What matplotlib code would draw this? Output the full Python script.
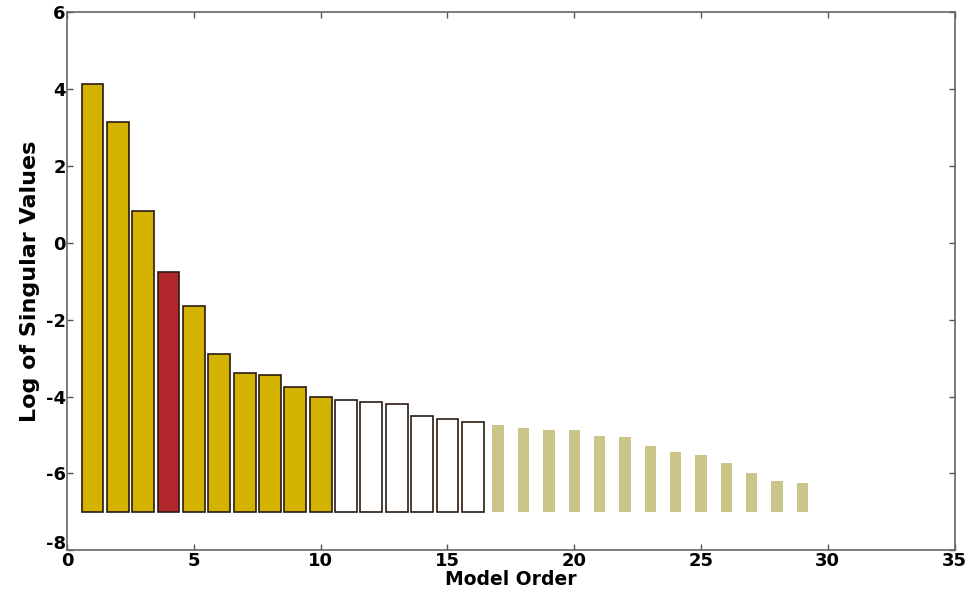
import matplotlib.pyplot as plt
import matplotlib.transforms as mtransforms
import numpy as np

plt.rcParams['axes.unicode_minus'] = False

# Log singular values per model order
order_kept = [1, 2, 3, 4, 5, 6, 7, 8, 9, 10]
sv_kept = [4.12, 3.15, 0.82, -0.75, -1.64, -2.9, -3.38, -3.45, -3.76, -4.0]

order_mid = [11, 12, 13, 14, 15, 16]
sv_mid = [-4.08, -4.13, -4.2, -4.51, -4.58, -4.65]

order_faint = [17, 18, 19, 20, 21, 22, 23, 24, 25, 26, 27, 28, 29]
sv_faint = [-4.75, -4.82, -4.88, -4.88, -5.03, -5.06, -5.29, -5.44, -5.53,
            -5.74, -6.0, -6.2, -6.26]

chosen_order = 4
base = -7

gold = '#d4b300'
red = '#b3262b'
faint = '#cbc58a'

fig = plt.figure(figsize=(9.73, 5.95), dpi=100)
ax = fig.add_axes([0.069, 0.075, 0.912, 0.905])

colors = [red if o == chosen_order else gold for o in order_kept]
ax.bar(order_kept, np.array(sv_kept) - base, bottom=base, width=0.86,
       color=colors, edgecolor='#2a1a10', linewidth=1.2)
ax.bar(order_mid, np.array(sv_mid) - base, bottom=base, width=0.86,
       color='white', edgecolor='#2a1a10', linewidth=1.2)
ax.bar(order_faint, np.array(sv_faint) - base, bottom=base, width=0.45,
       color=faint, edgecolor='none')

ax.set_xlim(0, 35)
ax.set_ylim(-8, 6)
ax.set_xticks(range(0, 36, 5))
ax.set_yticks(range(-8, 7, 2))
ax.tick_params(direction='in', top=True, right=True, length=4, width=1,
               colors='#555555', labelcolor='black', labelsize=13, pad=1)
for lab in ax.get_xticklabels() + ax.get_yticklabels():
    lab.set_fontweight('bold')
for s in ax.spines.values():
    s.set_color('#666666')
    s.set_linewidth(1.2)

# nudge the bottom y label up so it sits just above the x "0" like the original
fig.canvas.draw()
lowest = ax.get_yticklabels()[0]
lowest.set_transform(lowest.get_transform() +
                     mtransforms.ScaledTranslation(0, 6 / 72, fig.dpi_scale_trans))

ax.set_xlabel('Model Order', fontsize=13.5, fontweight='bold', labelpad=0)
ax.set_ylabel('Log of Singular Values', fontsize=16, fontweight='bold',
              labelpad=4)

fig.savefig('out.png', dpi=100)
